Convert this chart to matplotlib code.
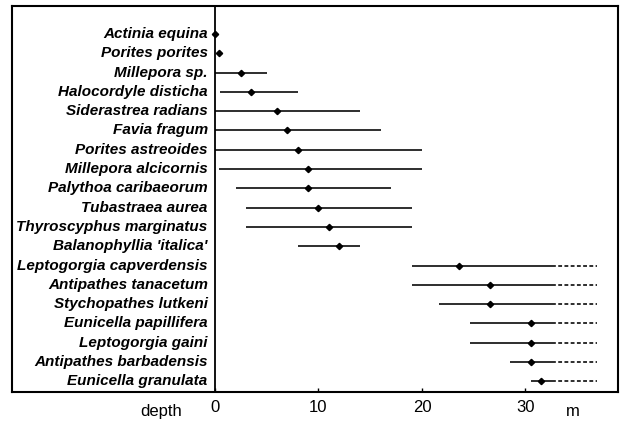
import matplotlib
matplotlib.use('Agg')
import matplotlib.pyplot as plt
from matplotlib import rcParams
rcParams['font.family'] = ['Liberation Sans', 'DejaVu Sans']

# species, top to bottom
species = ['Actinia equina', 'Porites porites', 'Millepora sp.',
           'Halocordyle disticha', 'Siderastrea radians', 'Favia fragum',
           'Porites astreoides', 'Millepora alcicornis',
           'Palythoa caribaeorum', 'Tubastraea aurea',
           'Thyroscyphus marginatus', "Balanophyllia 'italica'",
           'Leptogorgia capverdensis', 'Antipathes tanacetum',
           'Stychopathes lutkeni', 'Eunicella papillifera',
           'Leptogorgia gaini', 'Antipathes barbadensis',
           'Eunicella granulata']
# depth range (m) and mean depth
d_min = [0, 0.4, 0, 0.5, 0, 0, 0, 0.4, 2, 3, 3, 8,
         19, 19, 21.6, 24.6, 24.6, 28.5, 30.5]
d_max = [0, 0.4, 5, 8, 14, 16, 20, 20, 17, 19, 19, 14,
         32.6, 32.6, 32.6, 32.6, 32.6, 32.6, 32.6]
d_mean = [0, 0.4, 2.5, 3.5, 6, 7, 8, 9, 9, 10, 11, 12,
          23.6, 26.6, 26.6, 30.5, 30.5, 30.5, 31.5]
# species recorded to the deepest sampled level (dashed continuation)
extends = [False] * 12 + [True] * 7
d_ext = 36.9

ticks = [0, 10, 20, 30]

fig = plt.figure(figsize=(6.28, 4.22), dpi=100)
ax = fig.add_axes([12 / 628, 30 / 422, 606 / 628, 386 / 422])

for i, name in enumerate(species):
    ax.plot([d_min[i], d_max[i]], [i, i], color='black', lw=1.15,
            solid_capstyle='butt')
    if extends[i]:
        ax.plot([d_max[i], d_ext], [i, i], color='black', lw=1.15,
                ls=(0, (2.4, 1.5)))
    ax.plot(d_mean[i], i, 'D', color='black', ms=3.2)
    ax.text(-0.7, i, name, ha='right', va='center', fontsize=11,
            fontweight='bold', fontstyle='italic')

ax.axvline(0, color='black', lw=1.3)
ax.set_xlim(-19.61, 38.94)
ax.set_ylim(18.55, -1.45)
ax.set_yticks([])
ax.set_xticks(ticks)
ax.set_xticklabels([str(t) for t in ticks])
ax.tick_params(axis='x', direction='in', length=3, width=1, pad=6,
               labelsize=12)
for s in ax.spines.values():
    s.set_linewidth(1.5)

tr = ax.get_xaxis_transform()
ax.text(-5.2, -0.032, 'depth', transform=tr, ha='center', va='top',
        fontsize=12)
ax.text(34.6, -0.032, 'm', transform=tr, ha='center', va='top',
        fontsize=12)

fig.savefig('out.png', dpi=100)
